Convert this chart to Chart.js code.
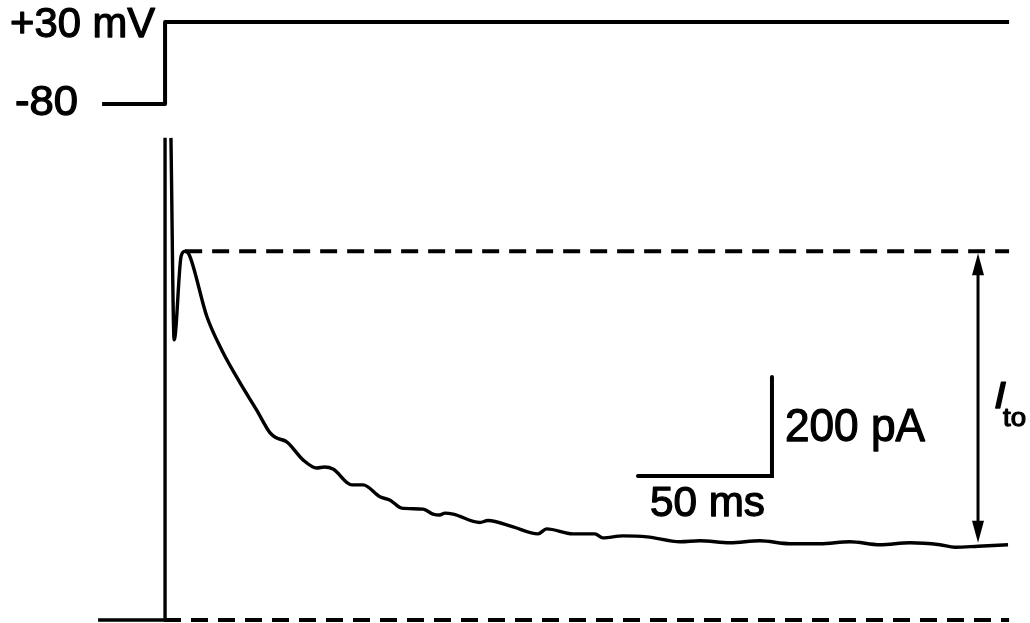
<!DOCTYPE html>
<html>
<head>
<meta charset="utf-8">
<script src="https://cdn.jsdelivr.net/npm/chart.js@4/dist/chart.umd.min.js"></script>
<style>
  html, body { margin: 0; padding: 0; background: #fff; }
  #wrap { width: 1030px; height: 623px; position: relative; }
</style>
</head>
<body>
<div id="wrap"><canvas id="traceChart"></canvas></div>
<script>
// Corrente (pA) em função do tempo (ms)
const timeMs = [-25, -0.4, 0, 0, null, 2.2, 3.4, 6.0, 7.5, 9.0, 15.6, 21.2, 28.0, 34.2, 39.2, 41.5, 45.4, 51.6, 56.6, 59.5, 62.7,
  69.7, 73.9, 80.2, 84.0, 88.3, 96.3, 100.0, 102.5, 104.5, 107.5, 117.5, 120.5, 129.9, 139.2, 142.4, 152.2,
  160.4, 163.4, 170.9, 179.9, 192.2, 199.6, 210.8, 222.0, 233.2, 244.4, 255.6, 266.8, 278.0,
  289.2, 294.8, 303.4, 314.6];
const currentPa = [0, 0, 0, 974, null, 974, 566, 735, 745, 738, 613, 545, 479, 424, 378, 368, 360, 323, 307, 309, 305,
  273, 273, 249, 242, 226, 224, 214, 212, 216, 214, 197, 201, 188, 174, 184, 174,
  174, 166, 170, 168, 158, 160, 156, 160, 154, 154, 158, 152, 156,
  152, 147, 149, 152];

// Protocolo de voltagem
const voltTimeMs = [-23.5, 0, 0, 315];
const voltMv = [-80, -80, 30, 30];

// Linhas tracejadas: pico e zero
const peakPa = 745;
const peakLineMs = [7.5, 315];
const zeroLineMs = [-0.4, 315];

// Barra de escala e seta do I_to
const scaleBarMs = 50;
const scaleBarPa = 200;
const scaleBarCornerMs = 226.5;
const scaleBarCornerPa = 291;
const arrowMs = 303.4;
const arrowBottomPa = 152;

function toPoints(xs, ys) {
  return xs.map((x, i) => ({ x: x === null ? NaN : x, y: ys[i] }));
}

const FONT = "'Liberation Sans', Arial, Helvetica, sans-serif";

// desenha texto ajustado à largura
function drawText(ctx, text, x, baseline, size, width, align, italic) {
  ctx.save();
  ctx.font = (italic ? 'italic ' : '') + size + 'px ' + FONT;
  const w = ctx.measureText(text).width;
  const sx = width / w;
  let left = x;
  if (align === 'right') left = x - width;
  ctx.translate(left, baseline);
  ctx.scale(sx, 1);
  ctx.fillStyle = '#000';
  ctx.strokeStyle = '#000';
  ctx.lineWidth = 1.25;
  ctx.lineJoin = 'round';
  ctx.textAlign = 'left';
  ctx.textBaseline = 'alphabetic';
  ctx.fillText(text, 0, 0);
  ctx.strokeText(text, 0, 0);
  ctx.restore();
}

const annotations = {
  id: 'annotations',
  afterDatasetsDraw(chart) {
    const ctx = chart.ctx;
    const xs = chart.scales.x;
    const yI = chart.scales.yI;
    const yV = chart.scales.yV;

    // rótulos da voltagem
    drawText(ctx, '+30 mV', xs.getPixelForValue(0) - 10, yV.getPixelForValue(30) + 15, 42, 145, 'right');
    drawText(ctx, '-80', xs.getPixelForValue(voltTimeMs[0]) - 24, yV.getPixelForValue(-80) + 11, 42, 63, 'right');

    // barra de escala
    const cx = xs.getPixelForValue(scaleBarCornerMs);
    const cy = yI.getPixelForValue(scaleBarCornerPa);
    const lx = xs.getPixelForValue(scaleBarCornerMs - scaleBarMs);
    const ty = yI.getPixelForValue(scaleBarCornerPa + scaleBarPa);
    ctx.save();
    ctx.strokeStyle = '#000';
    ctx.lineWidth = 4;
    ctx.lineCap = 'round';
    ctx.beginPath();
    ctx.moveTo(lx, cy);
    ctx.lineTo(cx, cy);
    ctx.lineTo(cx, ty);
    ctx.stroke();
    ctx.restore();
    drawText(ctx, scaleBarPa + ' pA', cx + 13, (cy + ty) / 2 + 15, 46, 140, 'left');
    drawText(ctx, scaleBarMs + ' ms', lx + 12, cy + 40, 42, 115, 'left');

    // seta dupla do I_to
    const ax = xs.getPixelForValue(arrowMs);
    const aTop = yI.getPixelForValue(peakPa) + 2;
    const aBot = yI.getPixelForValue(arrowBottomPa) - 2;
    ctx.save();
    ctx.strokeStyle = '#000';
    ctx.fillStyle = '#000';
    ctx.lineWidth = 3;
    ctx.beginPath();
    ctx.moveTo(ax, aTop + 15);
    ctx.lineTo(ax, aBot - 15);
    ctx.stroke();
    ctx.beginPath();
    ctx.moveTo(ax, aTop);
    ctx.lineTo(ax - 6, aTop + 22);
    ctx.lineTo(ax + 6, aTop + 22);
    ctx.closePath();
    ctx.fill();
    ctx.beginPath();
    ctx.moveTo(ax, aBot);
    ctx.lineTo(ax - 6, aBot - 22);
    ctx.lineTo(ax + 6, aBot - 22);
    ctx.closePath();
    ctx.fill();
    ctx.restore();

    const midY = (aTop + aBot) / 2;
    drawText(ctx, 'I', ax + 16, midY + 10, 37, 12, 'left', true);
    drawText(ctx, 'to', ax + 25, midY + 28, 26, 23, 'left');
  }
};

const config = {
  type: 'line',
  data: {
    datasets: [
      {
        label: 'Corrente',
        data: toPoints(timeMs, currentPa),
        yAxisID: 'yI',
        borderColor: '#000',
        borderWidth: 3.4,
        pointRadius: 0,
        cubicInterpolationMode: 'monotone',
        spanGaps: false
      },
      {
        label: 'Voltagem',
        data: toPoints(voltTimeMs, voltMv),
        yAxisID: 'yV',
        borderColor: '#000',
        borderWidth: 4,
        pointRadius: 0,
        tension: 0
      },
      {
        label: 'Pico',
        data: toPoints(peakLineMs, [peakPa, peakPa]),
        yAxisID: 'yI',
        borderColor: '#000',
        borderWidth: 4,
        borderDash: [17, 10],
        pointRadius: 0
      },
      {
        label: 'Zero',
        data: toPoints(zeroLineMs, [0, 0]),
        yAxisID: 'yI',
        borderColor: '#000',
        borderWidth: 4,
        borderDash: [17, 10],
        pointRadius: 0
      }
    ]
  },
  options: {
    responsive: true,
    maintainAspectRatio: false,
    animation: false,
    layout: { padding: 0 },
    elements: { line: { borderCapStyle: 'butt', borderJoinStyle: 'round' } },
    plugins: {
      legend: { display: false },
      tooltip: { enabled: false }
    },
    scales: {
      x: { type: 'linear', min: -61.6, max: 322.8, display: false },
      yI: { type: 'linear', min: -6.06, max: 1252.5, display: false },
      yV: { type: 'linear', min: -776.7, max: 59.5, display: false }
    }
  },
  plugins: [annotations]
};

new Chart(document.getElementById('traceChart'), config);
</script>
</body>
</html>
